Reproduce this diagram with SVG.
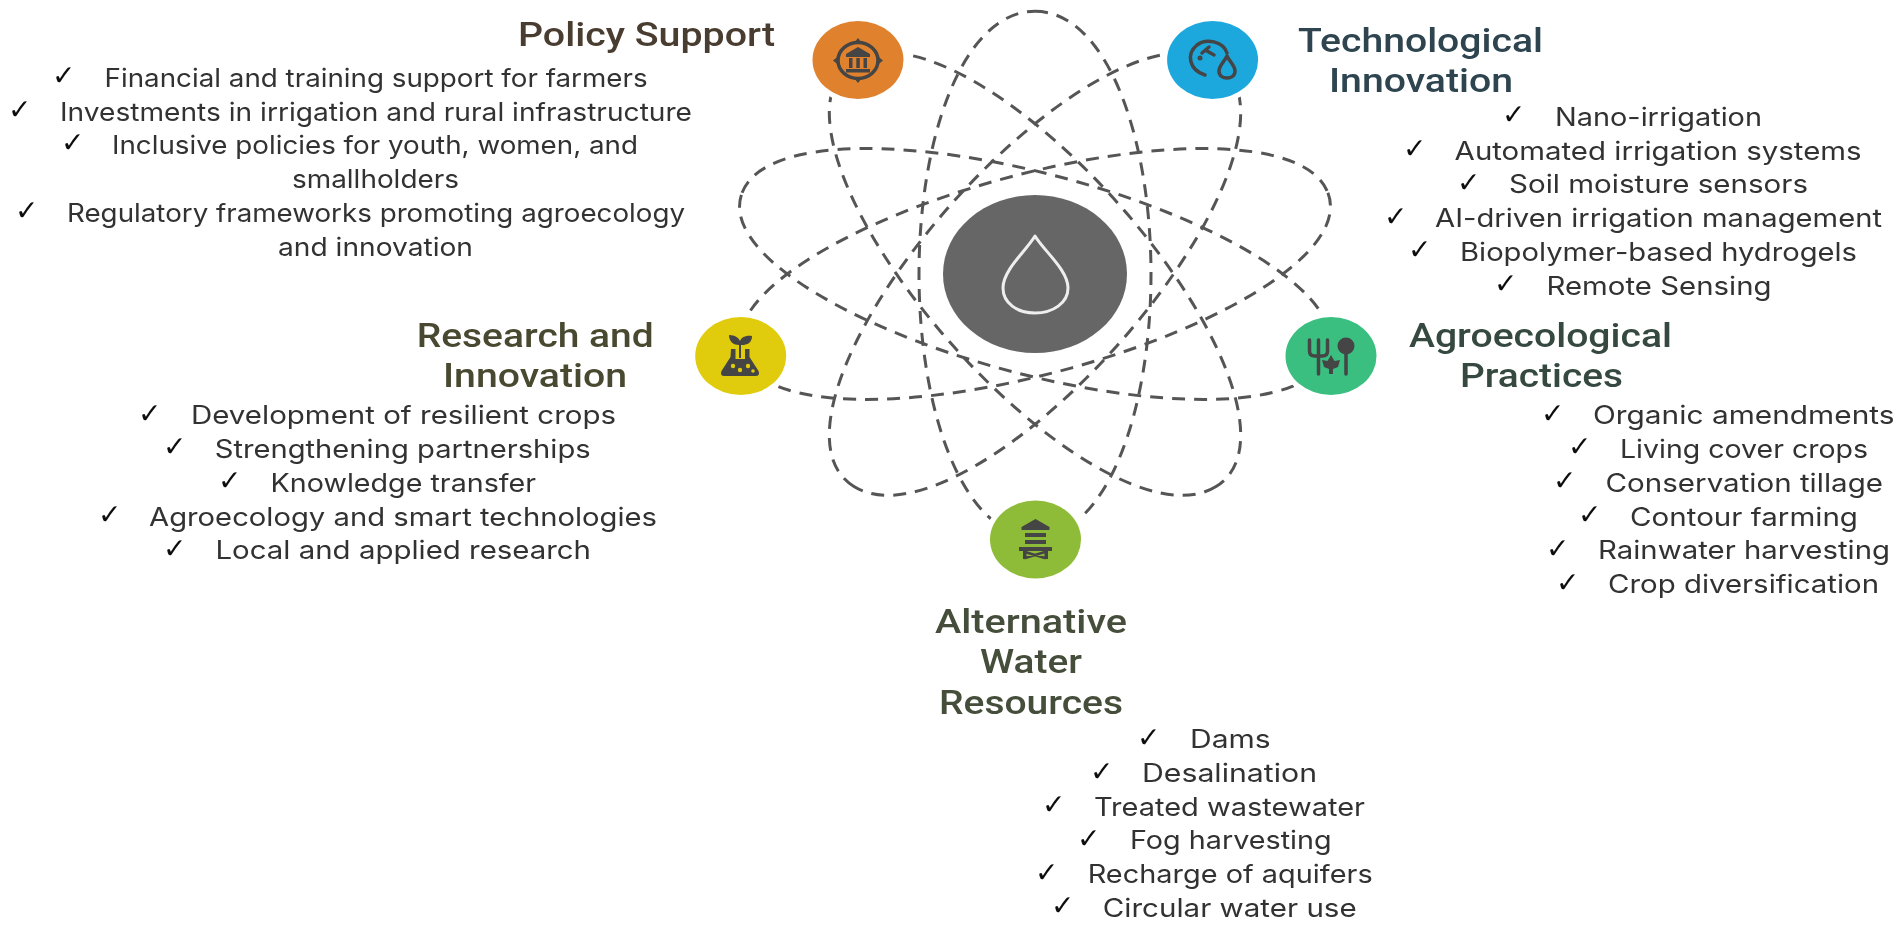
<svg xmlns="http://www.w3.org/2000/svg" width="1902" height="925" viewBox="0 0 1902 925">
<style>
.bg{fill:#fff}
.orbit{fill:none;stroke:#555;stroke-width:3;stroke-dasharray:13 9;vector-effect:non-scaling-stroke}
.halo{fill:#fff}
.ic{fill:#444;stroke:none}
.il{fill:none;stroke:#444;stroke-width:3.500;stroke-linecap:round;stroke-linejoin:round}
.t{font-family:Roboto,"Liberation Sans",sans-serif;font-weight:500;font-size:33px}
.i{font-family:Inter,"Open Sans",sans-serif;font-size:25.500px;fill:#333}
.c{font-family:"DejaVu Sans",sans-serif;font-size:28px;fill:#111}
</style>
<defs>
<filter id="soft" x="0" y="0" width="100%" height="100%"><feGaussianBlur stdDeviation=".5"/></filter>
<path id="loop" class="orbit" d="M0 -308C72 -308 116 -160 116 0C116 160 72 308 0 308C-72 308 -116 160 -116 0C-116 -160 -72 -308 0 -308Z"/>
</defs>
<rect class="bg" width="1902" height="925"/>
<g filter="url(#soft)">
<g id="connectors" transform="translate(1035 274) scale(1 .853)">
<use href="#loop"/>
<use href="#loop" transform="rotate(72)"/>
<use href="#loop" transform="rotate(144)"/>
<use href="#loop" transform="rotate(216)"/>
<use href="#loop" transform="rotate(288)"/>
</g>
<g id="center">
<ellipse cx="1035" cy="274" rx="92" ry="79" fill="#666"/>
<path d="M1035 236C1026 251 1003 270 1003 288C1003 303 1017 313 1035 313C1053 313 1068 303 1068 288C1068 270 1044 251 1035 236Z" fill="none" stroke="#eee" stroke-width="3" stroke-linejoin="round"/>
</g>
<g id="policy-support">
<ellipse class="halo" cx="858" cy="60" rx="51" ry="44"/>
<ellipse cx="858" cy="60" rx="45.500" ry="39" fill="#e0812e"/>
<ellipse class="il" cx="858" cy="60.500" rx="20" ry="18"/>
<path class="ic" d="M858 38l4 5h-8zM858 83l4-5h-8zM833 60.500l5-4v8zM883 60.500l-5-4v8zM858 47l12 7v3h-24v-3zM849 58h3.500v10h-3.500zM856.300 58h3.500v10h-3.500zM863.500 58h3.500v10h-3.500zM846 69h24v3.500h-24z"/>
<text class="t" fill="#4a3c30" x="518" y="46" textLength="257" lengthAdjust="spacingAndGlyphs">Policy Support</text>
<text class="c" x="52" y="85">✓</text><text class="i" x="104.600" y="86.700" textLength="543" lengthAdjust="spacingAndGlyphs">Financial and training support for farmers</text>
<text class="c" x="8" y="119">✓</text><text class="i" x="60" y="120.700" textLength="632" lengthAdjust="spacingAndGlyphs">Investments in irrigation and rural infrastructure</text>
<text class="c" x="61" y="152">✓</text><text class="i" x="112" y="154" textLength="526" lengthAdjust="spacingAndGlyphs">Inclusive policies for youth, women, and</text>
<text class="i" x="292" y="187.700" textLength="167" lengthAdjust="spacingAndGlyphs">smallholders</text>
<text class="c" x="15" y="220">✓</text><text class="i" x="67" y="221.700" textLength="618" lengthAdjust="spacingAndGlyphs">Regulatory frameworks promoting agroecology</text>
<text class="i" x="278" y="255.700" textLength="195" lengthAdjust="spacingAndGlyphs">and innovation</text>
</g>
<g id="technological-innovation">
<ellipse class="halo" cx="1212.600" cy="60" rx="51" ry="44"/>
<ellipse cx="1212.600" cy="60" rx="45.500" ry="39" fill="#1fa8dc"/>
<path class="il" d="M1227 53C1223 41 1206 38 1197 45C1186 54 1189 70 1205 75M1202 53l7-6M1207 51l7 4"/>
<circle class="ic" cx="1200" cy="58" r="2.500"/>
<path class="il" d="M1227 56C1224 62 1219 66 1219 71C1219 76 1223 78 1227 78C1231 78 1235 76 1235 71C1235 66 1230 62 1227 56Z"/>
<text class="t" fill="#2d4450" x="1298" y="51.700" textLength="245" lengthAdjust="spacingAndGlyphs">Technological</text>
<text class="t" fill="#2d4450" x="1329" y="92.300" textLength="184" lengthAdjust="spacingAndGlyphs">Innovation</text>
<text class="c" x="1502" y="124">✓</text><text class="i" x="1555" y="125.700" textLength="207" lengthAdjust="spacingAndGlyphs">Nano-irrigation</text>
<text class="c" x="1403" y="158">✓</text><text class="i" x="1454.600" y="159.700" textLength="407" lengthAdjust="spacingAndGlyphs">Automated irrigation systems</text>
<text class="c" x="1457" y="192">✓</text><text class="i" x="1509" y="193.300" textLength="299" lengthAdjust="spacingAndGlyphs">Soil moisture sensors</text>
<text class="c" x="1384" y="226">✓</text><text class="i" x="1435" y="227.300" textLength="447" lengthAdjust="spacingAndGlyphs">AI-driven irrigation management</text>
<text class="c" x="1408" y="259">✓</text><text class="i" x="1460" y="261" textLength="397" lengthAdjust="spacingAndGlyphs">Biopolymer-based hydrogels</text>
<text class="c" x="1494" y="293">✓</text><text class="i" x="1546.500" y="294.700" textLength="225" lengthAdjust="spacingAndGlyphs">Remote Sensing</text>
</g>
<g id="agroecological-practices">
<ellipse class="halo" cx="1331" cy="356" rx="51" ry="44"/>
<ellipse cx="1331" cy="356" rx="45.500" ry="39" fill="#3bbf80"/>
<path class="il" d="M1309.500 340v11q0 5 5 5h8q5 0 5-5v-11M1318.500 340v34M1346 350v24"/>
<ellipse class="ic" cx="1346" cy="346" rx="8.500" ry="8.500"/>
<path class="ic" d="M1331 355l3.500 6 5.500-1-2 7-5 2v5h-4v-5l-5-2-2-7 5.500 1z"/>
<text class="t" fill="#35493f" x="1409" y="346.700" textLength="263" lengthAdjust="spacingAndGlyphs">Agroecological</text>
<text class="t" fill="#35493f" x="1460" y="387" textLength="163" lengthAdjust="spacingAndGlyphs">Practices</text>
<text class="c" x="1541" y="423">✓</text><text class="i" x="1593" y="424.300" textLength="301.500" lengthAdjust="spacingAndGlyphs">Organic amendments</text>
<text class="c" x="1568" y="456">✓</text><text class="i" x="1620" y="458" textLength="248" lengthAdjust="spacingAndGlyphs">Living cover crops</text>
<text class="c" x="1553" y="490">✓</text><text class="i" x="1605.500" y="491.700" textLength="277.500" lengthAdjust="spacingAndGlyphs">Conservation tillage</text>
<text class="c" x="1578" y="524">✓</text><text class="i" x="1630" y="525.700" textLength="228" lengthAdjust="spacingAndGlyphs">Contour farming</text>
<text class="c" x="1546" y="558">✓</text><text class="i" x="1598" y="559.300" textLength="292" lengthAdjust="spacingAndGlyphs">Rainwater harvesting</text>
<text class="c" x="1556" y="592">✓</text><text class="i" x="1608" y="593.300" textLength="271" lengthAdjust="spacingAndGlyphs">Crop diversification</text>
</g>
<g id="research-and-innovation">
<ellipse class="halo" cx="740.700" cy="356" rx="51" ry="44"/>
<ellipse cx="740.700" cy="356" rx="45.500" ry="39" fill="#e0cc10"/>
<path class="ic" d="M731 349h4.500v10h9.500v-10h4.500v8l9 14q2 5-3 5h-31q-5 0-3-5l9-14z"/>
<path class="ic" d="M739 358v-13c-5 0-10-3-10-10c6 0 10 3 11 6c1-3 5-6 12-5c0 7-5 9-10 9h-1v13z"/>
<circle cx="733" cy="366" r="2.200" fill="#e0cc10"/><circle cx="740" cy="370" r="2.200" fill="#e0cc10"/><circle cx="748" cy="366" r="2.200" fill="#e0cc10"/><circle cx="753" cy="371" r="1.800" fill="#e0cc10"/>
<text class="t" fill="#4a4a30" x="416.700" y="346.700" textLength="237" lengthAdjust="spacingAndGlyphs">Research and</text>
<text class="t" fill="#4a4a30" x="443" y="387" textLength="184" lengthAdjust="spacingAndGlyphs">Innovation</text>
<text class="c" x="138" y="423">✓</text><text class="i" x="191" y="424.300" textLength="425" lengthAdjust="spacingAndGlyphs">Development of resilient crops</text>
<text class="c" x="163" y="456">✓</text><text class="i" x="214.700" y="457.700" textLength="376" lengthAdjust="spacingAndGlyphs">Strengthening partnerships</text>
<text class="c" x="218" y="490">✓</text><text class="i" x="270.600" y="491.700" textLength="265.500" lengthAdjust="spacingAndGlyphs">Knowledge transfer</text>
<text class="c" x="98" y="524">✓</text><text class="i" x="149" y="525.700" textLength="508" lengthAdjust="spacingAndGlyphs">Agroecology and smart technologies</text>
<text class="c" x="163" y="558">✓</text><text class="i" x="215.500" y="559.300" textLength="375.500" lengthAdjust="spacingAndGlyphs">Local and applied research</text>
</g>
<g id="alternative-water-resources">
<ellipse class="halo" cx="1035.500" cy="539.500" rx="51" ry="44"/>
<ellipse cx="1035.500" cy="539.500" rx="45.500" ry="39" fill="#8fbc38"/>
<path class="ic" d="M1035.500 519l14 8v3h-28v-3zM1025 533h21v4h-21zM1025 540h21v4h-21zM1019 547h33v4h-33zM1023 551h3.500v8h-3.500zM1044.500 551h3.500v8h-3.500z"/>
<path class="il" d="M1025 552l10 3 10-3M1025 558l10-3 10 3" style="stroke-width:2.500"/>
<text class="t" fill="#454d3a" x="935" y="632.700" textLength="192" lengthAdjust="spacingAndGlyphs">Alternative</text>
<text class="t" fill="#454d3a" x="980" y="672.700" textLength="102" lengthAdjust="spacingAndGlyphs">Water</text>
<text class="t" fill="#454d3a" x="939" y="714" textLength="184" lengthAdjust="spacingAndGlyphs">Resources</text>
<text class="c" x="1137" y="747">✓</text><text class="i" x="1190" y="748.300" textLength="80.700" lengthAdjust="spacingAndGlyphs">Dams</text>
<text class="c" x="1090" y="781">✓</text><text class="i" x="1142" y="782.300" textLength="175" lengthAdjust="spacingAndGlyphs">Desalination</text>
<text class="c" x="1042" y="814">✓</text><text class="i" x="1094" y="816" textLength="271" lengthAdjust="spacingAndGlyphs">Treated wastewater</text>
<text class="c" x="1077" y="848">✓</text><text class="i" x="1130" y="849" textLength="201.700" lengthAdjust="spacingAndGlyphs">Fog harvesting</text>
<text class="c" x="1035" y="882">✓</text><text class="i" x="1087.700" y="883.300" textLength="285" lengthAdjust="spacingAndGlyphs">Recharge of aquifers</text>
<text class="c" x="1051" y="915">✓</text><text class="i" x="1102.700" y="916.700" textLength="254" lengthAdjust="spacingAndGlyphs">Circular water use</text>
</g>
</g>
</svg>
